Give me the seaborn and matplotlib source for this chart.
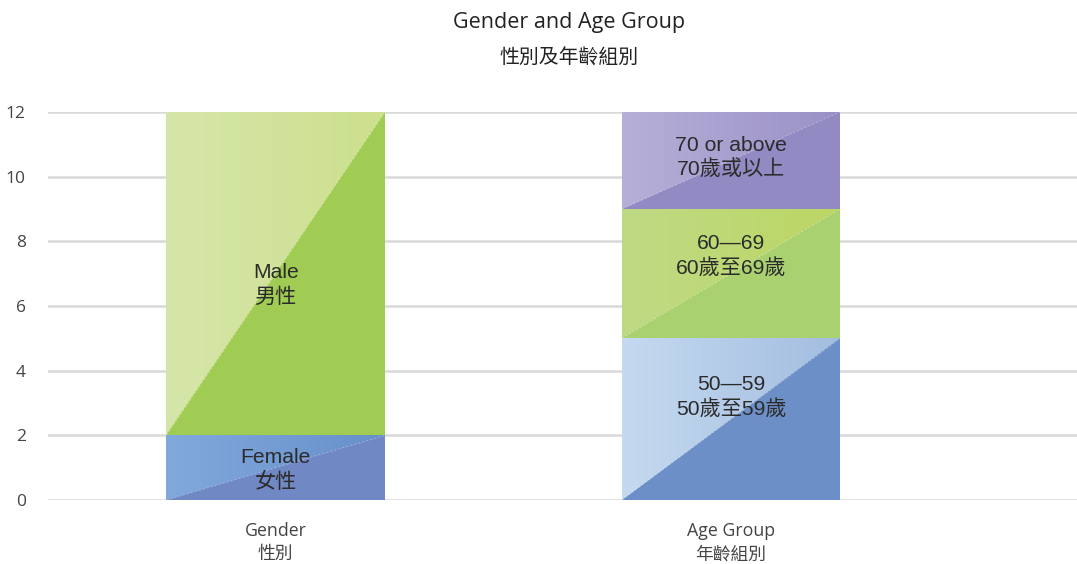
import numpy as np
import pandas as pd
import matplotlib
matplotlib.use("Agg")
import matplotlib.pyplot as plt
from matplotlib.patches import Polygon
from matplotlib.colors import LinearSegmentedColormap
import seaborn as sns

# ---- data ----
groups = ["Gender\n性別", "Gender\n性別", "Age Group\n年齡組別", "Age Group\n年齡組別", "Age Group\n年齡組別"]
segments = ["Female\n女性", "Male\n男性", "50—59\n50歲至59歲", "60—69\n60歲至69歲", "70 or above\n70歲或以上"]
values = [2, 10, 5, 4, 3]
yticks = [0, 2, 4, 6, 8, 10, 12]
title_en = "Gender and Age Group"
title_zh = "性別及年齡組別"

# ---- styles ----
dark_colors = ["#7089C5", "#A1CC53", "#6D8FC8", "#AAD170", "#918AC3"]
grad_left = ["#82A9DC", "#D6E6AA", "#C5DAF0", "#BFDA85", "#B6B0D8"]
grad_right = ["#6690CB", "#CCE08D", "#A3BDE0", "#BCD664", "#9A90C6"]
label_frac = [0.47, 0.465, 0.64, 0.64, 0.53]

sns.set_theme(style="white")
cjk = ["Open Sans", "Noto Sans CJK TC", "DejaVu Sans"]
plt.rcParams["font.family"] = cjk

df = pd.DataFrame({"group": groups, "segment": segments, "value": values})
df["top"] = df.groupby("group")["value"].cumsum()
df["bottom"] = df["top"] - df["value"]
order = list(dict.fromkeys(groups))

fig = plt.figure(figsize=(10.77, 5.64), dpi=100)
ax = fig.add_axes([0.0446, 0.1135, 0.9554, 0.688])

# draw stacked bars from the topmost level down (each level = cumulative total)
for i in sorted(range(len(df)), key=lambda k: -df.loc[k, "top"]):
    row = df.loc[i]
    sub = pd.DataFrame({"group": [row["group"]], "top": [row["top"]]})
    sns.barplot(data=sub, x="group", y="top", order=order, color=dark_colors[i],
                saturation=1, width=0.48, ax=ax, linewidth=0, zorder=2)

ax.set_xlim(-0.5, 1.76)
ax.set_ylim(0, 12)

# overlay gradient upper-left triangle on each segment
for i, row in df.iterrows():
    xc = order.index(row["group"])
    x0, x1 = xc - 0.24, xc + 0.24
    b, t = row["bottom"], row["top"]
    cmap = LinearSegmentedColormap.from_list("g%d" % i, [grad_left[i], grad_right[i]])
    grad = np.linspace(0, 1, 256).reshape(1, -1)
    im = ax.imshow(grad, cmap=cmap, extent=(x0, x1, b, t), aspect="auto",
                   origin="lower", zorder=3, interpolation="bicubic")
    tri = Polygon([(x0, b), (x0, t), (x1, t)], closed=True, transform=ax.transData,
                  facecolor="none", edgecolor="none")
    ax.add_patch(tri)
    im.set_clip_path(tri)
    ax.plot([x0, x1], [b, t], color="white", lw=0.6, alpha=0.35, ls=(0, (3, 2)), zorder=4)
    ax.text(xc, b + row["value"] * label_frac[i], row["segment"], ha="center", va="center",
            fontsize=15.2, color="#2B2B2B", linespacing=1.3,
            family=["Liberation Sans", "Noto Sans CJK TC"], zorder=5)

ax.set_aspect("auto")
ax.set_xlim(-0.5, 1.76)
ax.set_ylim(0, 12)
ax.set_yticks(yticks)
ax.set_yticklabels([str(v) for v in yticks])
ax.yaxis.grid(True, color="#D9D9D9", lw=1.8, zorder=0)
ax.set_axisbelow(True)
for s in ax.spines.values():
    s.set_visible(False)
ax.tick_params(axis="y", length=0, pad=16, labelsize=12.5, labelcolor="#444444")
ax.tick_params(axis="x", length=0, pad=16, labelsize=12.8, labelcolor="#444444")
for lab in ax.get_xticklabels():
    lab.set_linespacing(1.35)
ax.set_xlabel("")
ax.set_ylabel("")

fig.text(0.528, 0.960, title_en, ha="center", va="center", fontsize=15.5, color="#222222")
fig.text(0.528, 0.898, title_zh, ha="center", va="center", fontsize=14.3, color="#222222",
         family=["Noto Sans CJK TC"], fontweight="medium")

fig.savefig("out.png", dpi=100)
